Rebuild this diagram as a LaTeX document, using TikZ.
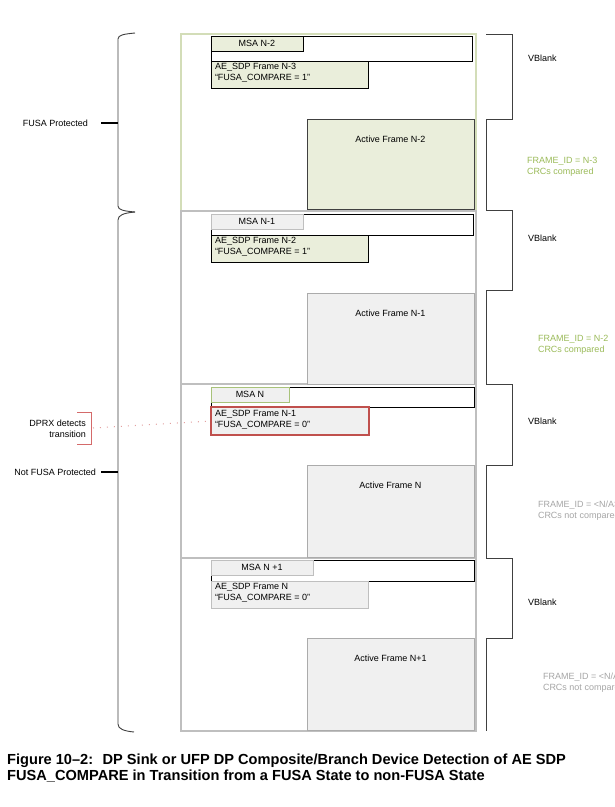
\documentclass[tikz,border=0pt]{standalone}
\usepackage{fontspec}
\setmainfont{Liberation Sans}
\usetikzlibrary{calc}
\definecolor{gfill}{HTML}{EAEEDB}
\definecolor{yfill}{HTML}{F0F0F0}
\definecolor{gline}{HTML}{D3DDB8}
\definecolor{msag}{HTML}{A8C27A}
\definecolor{fline}{HTML}{BFBFBF}
\definecolor{aline}{HTML}{ABABAB}
\definecolor{redb}{HTML}{C0504D}
\definecolor{redl}{HTML}{D46A6A}
\definecolor{redd}{HTML}{E3A0A0}
\definecolor{olive}{HTML}{9BBB59}
\definecolor{gtext}{HTML}{A6A6A6}
\definecolor{dk}{HTML}{404040}
\tikzset{
  box/.style={rectangle, inner sep=0pt, outer sep=0pt, anchor=north west},
  frm/.style={box, line width=1.2pt, minimum width=295},
  bar/.style={box, draw=black, line width=0.9pt},
  lbl/.style={box, line width=0.9pt, minimum height=15},
  aebox/.style={box, line width=0.9pt, minimum width=157, minimum height=27},
  act/.style={box, line width=0.9pt, minimum width=167},
  txt/.style={font=\fontsize{9}{11}\selectfont, inner sep=0pt, outer sep=0pt},
  ltxt/.style={txt, anchor=west, align=left},
  captxt/.style={font=\fontsize{14.6}{16}\selectfont\bfseries, inner sep=0pt, anchor=base west},
  brace/.style={draw=dk, line width=0.9pt},
}
\begin{document}
\begin{tikzpicture}[x=1pt,y=-1pt]
\useasboundingbox (0,0) rectangle (615,807);
\fill[white] (0,0) rectangle (615,807);

% ---- frames
\node[frm, draw=gline, minimum height=177] (f1) at (181,34) {};
\node[frm, draw=fline, minimum height=173] (f2) at (181,211) {};
\node[frm, draw=fline, minimum height=174] (f3) at (181,384) {};
\node[frm, draw=fline, minimum height=173] (f4) at (181,558) {};

% ---- frame 1
\node[bar, minimum width=261, minimum height=25] (b1) at (211,36) {};
\node[lbl, minimum width=92, fill=gfill, draw=black] (m1) at (211,36) {};
\node[txt] at (m1.center) {MSA N-2};
\node[aebox, fill=gfill, draw=black] (ae1) at (211,61) {};
\node[ltxt] at (215,73) {AE\_SDP Frame N-3\\“FUSA\_COMPARE = 1”};
\node[act, minimum height=90, fill=gfill, draw=dk] (a1) at (307,119) {};
\node[txt] at ($(a1.north)+(0,20)$) {Active Frame N-2};

% ---- frame 2
\node[bar, minimum width=262, minimum height=21] (b2) at (211,214) {};
\node[lbl, minimum width=92, fill=yfill, draw=fline] (m2) at (211,214) {};
\node[txt] at (m2.center) {MSA N-1};
\node[aebox, fill=gfill, draw=black] (ae2) at (211,235) {};
\node[ltxt] at (215,247) {AE\_SDP Frame N-2\\“FUSA\_COMPARE = 1”};
\node[act, minimum height=91, fill=yfill, draw=aline] (a2) at (307,293) {};
\node[txt] at ($(a2.north)+(0,20)$) {Active Frame N-1};

% ---- frame 3
\node[bar, minimum width=263, minimum height=20] (b3) at (211,387) {};
\node[lbl, minimum width=78, fill=yfill, draw=msag] (m3) at (211,387) {};
\node[txt] at (m3.center) {MSA N};
\node[aebox, minimum width=158, minimum height=28, fill=yfill, draw=redb, line width=2.2pt] (ae3) at (211,407) {};
\node[ltxt] at (215,419.5) {AE\_SDP Frame N-1\\“FUSA\_COMPARE = 0”};
\node[act, minimum height=92, fill=yfill, draw=aline] (a3) at (307,465) {};
\node[txt] at ($(a3.north)+(0,20)$) {Active Frame N};

% ---- frame 4
\node[bar, minimum width=263, minimum height=21] (b4) at (211,560) {};
\node[lbl, minimum width=102, fill=yfill, draw=fline] (m4) at (211,560) {};
\node[txt] at (m4.center) {MSA N +1};
\node[aebox, fill=yfill, draw=fline] (ae4) at (211,581) {};
\node[ltxt] at (215,593) {AE\_SDP Frame N\\“FUSA\_COMPARE = 0”};
\node[act, minimum height=92, fill=yfill, draw=aline] (a4) at (307,638) {};
\node[txt] at ($(a4.north)+(0,20)$) {Active Frame N+1};

% ---- right step bracket
\draw[brace] (486,34) -- (512,34) -- (512,119) -- (486,119) -- (486,210)
  -- (512,210) -- (512,290) -- (486,290) -- (486,384) -- (512,384) -- (512,465) -- (486,465)
  -- (486,558) -- (512,558) -- (512,638) -- (486,638) -- (486,731);

\node[txt, anchor=west] (vb1) at (528,58) {VBlank};
\node[txt, anchor=west] (vb2) at (528,238) {VBlank};
\node[txt, anchor=west] (vb3) at (528,421) {VBlank};
\node[txt, anchor=west] (vb4) at (528,602) {VBlank};

\node[ltxt, text=olive] (id1) at (527,167) {FRAME\_ID = N-3\\CRCs compared};
\node[ltxt, text=olive] (id2) at (538,345) {FRAME\_ID = N-2\\CRCs compared};
\node[ltxt, text=gtext] (id3) at (538,511) {FRAME\_ID = <N/A>\\CRCs not compared};
\node[ltxt, text=gtext] (id4) at (543,683) {FRAME\_ID = <N/A>\\CRCs not compared};

% ---- left braces
\draw[brace] (135,33) .. controls (124,34) and (118,35) .. (118,39) -- (118,206)
  .. controls (118,210) and (124,211) .. (135,212);
\draw[brace] (135,212) .. controls (124,213) and (118,215) .. (118,220) -- (118,724)
  .. controls (118,729) and (124,731) .. (134,732);
\coordinate (t1a) at (101,123);
\coordinate (t1b) at (118,123);
\coordinate (t2a) at (101,472);
\coordinate (t2b) at (118,472);
\draw[line width=1.1pt] (t1a) -- (t1b);
\draw[line width=1.1pt] (t2a) -- (t2b);
\node[txt, anchor=east] (fp) at (88,123) {FUSA Protected};
\node[txt, anchor=east] (nfp) at (96,472) {Not FUSA Protected};

% ---- DPRX detects transition
\draw[draw=redl, line width=0.9pt] (77,412) -- (91,412) -- (91,444) -- (77,444);
\node[txt, anchor=east, align=right] (dprx) at (86,429) {DPRX detects\\transition};
\coordinate (dp) at (93,428);
\draw[draw=redd, line width=1pt, dash pattern=on 1pt off 6pt] (dp) -- (ae3.west);

% ---- caption
\node[captxt] (c1) at (7,764) {Figure 10–2:~ DP Sink or UFP DP Composite/Branch Device Detection of AE SDP};
\node[captxt] (c2) at (7,780) {FUSA\_COMPARE in Transition from a FUSA State to non-FUSA State};
\end{tikzpicture}
\end{document}
